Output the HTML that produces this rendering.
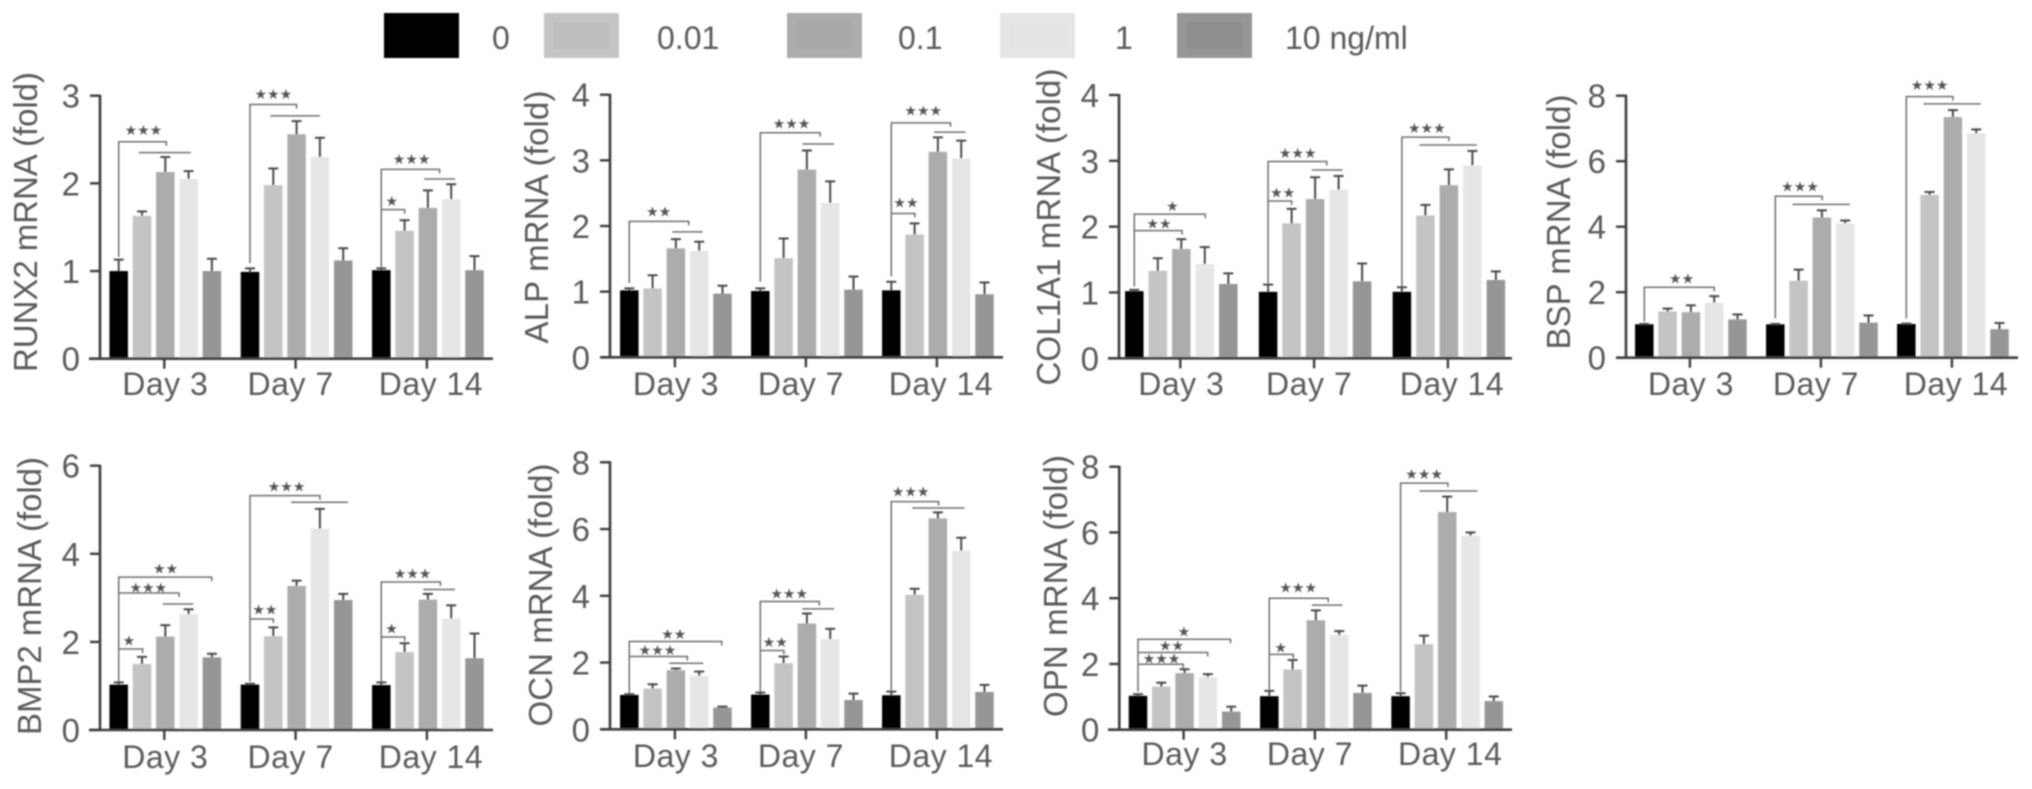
<!DOCTYPE html>
<html lang="en">
<head>
<meta charset="utf-8">
<title>mRNA fold change by dose and day</title>
<style>
html,body{margin:0;padding:0;background:#fff;width:2032px;height:789px;overflow:hidden}
svg{display:block}
text{font-family:"Liberation Sans",sans-serif;fill:#5a5a5a}
</style>
</head>
<body>
<svg id="figure" xmlns="http://www.w3.org/2000/svg" width="2032" height="789" viewBox="0 0 2032 789">
<defs><filter id="soft" x="-2%" y="-2%" width="104%" height="104%"><feGaussianBlur stdDeviation="0.8"/></filter></defs>
<g id="root" filter="url(#soft)"></g>
</svg>
<script>
// Shared categories
const days = ["Day 3", "Day 7", "Day 14"];
const doseLabels = ["0", "0.01", "0.1", "1", "10 ng/ml"];
const doseColors = ["#000000", "#c4c4c4", "#acacac", "#e6e6e6", "#969696"];
const doseInnerColors = ["#000000", "#bdbdbd", "#a8a8a8", "#e3e3e3", "#8e8e8e"];

// Means by day then dose; tops are the upper end of each error bar
const runx2Means = [[1.0,1.63,2.13,2.05,1.0],[0.99,1.98,2.56,2.3,1.12],[1.01,1.46,1.72,1.82,1.01]];
const runx2Tops = [[1.13,1.68,2.30,2.14,1.14],[1.03,2.17,2.71,2.52,1.26],[1.03,1.58,1.92,1.99,1.17]];
const alpMeans = [[1.02,1.05,1.66,1.62,0.97],[1.01,1.51,2.86,2.35,1.03],[1.02,1.87,3.13,3.03,0.96]];
const alpTops = [[1.05,1.25,1.80,1.76,1.09],[1.05,1.81,3.15,2.68,1.23],[1.15,2.04,3.35,3.30,1.14]];
const col1a1Means = [[1.02,1.33,1.66,1.43,1.13],[1.01,2.05,2.42,2.56,1.17],[1.01,2.17,2.63,2.93,1.19]];
const col1a1Tops = [[1.04,1.52,1.81,1.69,1.29],[1.12,2.27,2.75,2.77,1.44],[1.08,2.33,2.87,3.15,1.32]];
const bspMeans = [[1.02,1.41,1.39,1.68,1.17],[1.02,2.35,4.28,4.10,1.07],[1.03,4.97,7.35,6.85,0.87]];
const bspTops = [[1.03,1.50,1.60,1.88,1.32],[1.03,2.69,4.50,4.19,1.29],[1.04,5.06,7.56,6.97,1.06]];
const bmp2Means = [[1.03,1.50,2.12,2.63,1.65],[1.03,2.13,3.27,4.57,2.95],[1.02,1.77,2.96,2.53,1.63]];
const bmp2Tops = [[1.08,1.66,2.38,2.74,1.73],[1.05,2.33,3.39,5.02,3.09],[1.08,1.97,3.09,2.83,2.19]];
const ocnMeans = [[1.03,1.22,1.77,1.60,0.65],[1.04,1.98,3.17,2.70,0.88],[1.02,4.03,6.32,5.35,1.12]];
const ocnTops = [[1.05,1.35,1.82,1.73,0.68],[1.10,2.18,3.47,3.01,1.07],[1.13,4.21,6.50,5.74,1.33]];
const opnMeans = [[1.03,1.31,1.72,1.60,0.55],[1.02,1.83,3.33,2.88,1.12],[1.02,2.60,6.62,5.90,0.87]];
const opnTops = [[1.08,1.43,1.84,1.69,0.70],[1.18,2.12,3.63,3.00,1.34],[1.11,2.86,7.09,6.00,1.01]];

// Significance brackets: [day index, end dose position, value level, start drop value, star count, star dose position, star value]
const runx2Brackets = [[0,2.04,2.475,1.16,3,1.06,2.61],[1,2.0,2.90,1.09,3,1.0,3.02],[2,2.5,2.16,1.03,3,1.3,2.28],[2,1.0,1.70,1.70,1,0.45,1.80]];
const alpBrackets = [[0,2.55,2.07,1.13,2,1.26,2.22],[1,2.57,3.42,1.15,3,1.34,3.56],[2,2.54,3.57,1.23,3,1.37,3.76],[2,1.01,2.19,2.19,2,0.63,2.36]];
const col1a1Brackets = [[0,3.02,2.19,1.09,1,1.62,2.31],[0,2.03,1.94,1.94,2,1.05,2.05],[1,2.5,2.99,1.14,3,1.26,3.12],[1,1.0,2.39,2.39,2,0.62,2.52],[2,2.0,3.36,1.09,3,1.06,3.5]];
const bspBrackets = [[0,3.0,2.15,1.1,2,1.6,2.42],[1,2.01,4.93,1.2,3,1.06,5.22],[2,2.0,7.97,1.2,3,1.0,8.32]];
const bmp2Brackets = [[0,3.99,3.47,1.1,2,2.01,3.67],[0,2.59,3.11,3.11,3,1.27,3.24],[0,1.03,1.84,1.84,1,0.44,2.03],[1,3.0,5.32,1.1,3,1.57,5.53],[1,1.0,2.52,2.52,2,0.64,2.73],[2,2.54,3.36,1.1,3,1.34,3.55],[2,1.01,2.11,2.11,1,0.44,2.3]];
const ocnBrackets = [[0,3.97,2.63,1.08,2,1.91,2.86],[0,2.49,2.18,2.18,3,1.21,2.38],[1,2.53,3.83,1.13,3,1.24,4.07],[1,1.01,2.36,2.36,2,0.64,2.61],[2,2.03,6.82,1.13,3,0.83,7.12]];
const opnBrackets = [[0,3.97,2.75,1.16,1,1.97,2.98],[0,2.99,2.35,2.35,2,1.44,2.56],[0,1.94,1.99,1.99,3,1.01,2.17],[1,2.53,4.0,1.2,3,1.24,4.32],[1,1.03,2.29,2.29,1,0.49,2.5],[2,2.03,7.5,1.16,3,1.01,7.78]];

// Horizontal comparison lines: [day index, from dose position, to dose position, value level]
const runx2Lines = [[0,0.86,3.09,2.35],[1,0.87,3.0,2.77],[2,1.84,3.17,2.05]];
const alpLines = [[0,1.84,3.14,1.91],[1,1.81,3.17,3.25],[2,1.84,3.19,3.43]];
const col1a1Lines = [[1,1.86,3.16,2.86],[2,0.75,3.19,3.24]];
const bspLines = [[1,0.74,3.2,4.68],[2,0.74,3.19,7.75]];
const bmp2Lines = [[0,1.89,3.2,2.86],[1,1.76,4.21,5.17],[2,1.8,3.16,3.19]];
const ocnLines = [[0,1.71,3.17,1.98],[1,1.81,3.17,3.61],[2,0.9,3.14,6.63]];
const opnLines = [[1,1.83,3.14,3.79],[2,0.81,3.3,7.26]];

// Y tick labels
const ticksRunx2 = [0,1,2,3];
const ticksTo4 = [0,1,2,3,4];
const ticksTo6 = [0,2,4,6];
const ticksTo8 = [0,2,4,6,8];

const panels = [
  {id:"runx2",title:"RUNX2 mRNA (fold)",means:runx2Means,tops:runx2Tops,brackets:runx2Brackets,lines:runx2Lines,ticks:ticksRunx2,
   axisX:100,y0:358.7,yTop:95.7,start:118.7,groupStep:131.3,barStep:23.3,xFrom:89,xTo:493,titleX:37,titleY:222,titleLen:300,dayY:395},
  {id:"alp",title:"ALP mRNA (fold)",means:alpMeans,tops:alpTops,brackets:alpBrackets,lines:alpLines,ticks:ticksTo4,
   axisX:610,y0:357.3,yTop:94.7,start:629.3,groupStep:131,barStep:23.3,xFrom:600,xTo:1003,titleX:548,titleY:217,titleLen:253,dayY:395},
  {id:"col1a1",title:"COL1A1 mRNA (fold)",means:col1a1Means,tops:col1a1Tops,brackets:col1a1Brackets,lines:col1a1Lines,ticks:ticksTo4,
   axisX:1119,y0:358.3,yTop:95,start:1134.3,groupStep:133.8,barStep:23.5,xFrom:1108,xTo:1512,titleX:1060,titleY:227,titleLen:317,dayY:395},
  {id:"bsp",title:"BSP mRNA (fold)",means:bspMeans,tops:bspTops,brackets:bspBrackets,lines:bspLines,ticks:ticksTo8,
   axisX:1626,y0:357.7,yTop:95.7,start:1644.3,groupStep:131,barStep:23.3,xFrom:1616,xTo:2018,titleX:1570,titleY:222,titleLen:255,dayY:395},
  {id:"bmp2",title:"BMP2 mRNA (fold)",means:bmp2Means,tops:bmp2Tops,brackets:bmp2Brackets,lines:bmp2Lines,ticks:ticksTo6,
   axisX:100,y0:730,yTop:465.7,start:118.7,groupStep:131.3,barStep:23.3,xFrom:89,xTo:493,titleX:41,titleY:596,titleLen:278,dayY:768},
  {id:"ocn",title:"OCN mRNA (fold)",means:ocnMeans,tops:ocnTops,brackets:ocnBrackets,lines:ocnLines,ticks:ticksTo8,
   axisX:610,y0:729.3,yTop:462.3,start:629.3,groupStep:131,barStep:23.3,xFrom:600,xTo:1003,titleX:552,titleY:595,titleLen:263,dayY:767},
  {id:"opn",title:"OPN mRNA (fold)",means:opnMeans,tops:opnTops,brackets:opnBrackets,lines:opnLines,ticks:ticksTo8,
   axisX:1119.3,y0:729.7,yTop:466.7,start:1138,groupStep:131.3,barStep:23.3,xFrom:1108,xTo:1512,titleX:1067,titleY:586,titleLen:262,dayY:765}
];

const NS = "http://www.w3.org/2000/svg";
const root = document.getElementById("root");

function mk(tag, attrs, parent, content) {
  const el = document.createElementNS(NS, tag);
  for (const k in attrs) el.setAttribute(k, attrs[k]);
  if (content !== undefined) el.textContent = content;
  parent.appendChild(el);
  return el;
}

// Legend
const legendLayout = {boxX:[384,544,787,1000,1177], textX:[492,657,898,1115,1285]};
const legend = mk("g", {}, root);


doseLabels.forEach((label, i) => {
  const outer = mk("rect", {x:legendLayout.boxX[i], y:13, width:75, height:45, fill:doseColors[i]}, legend);
  
  
  const inner = mk("rect", {x:legendLayout.boxX[i]+10, y:22, width:55, height:27, fill:doseInnerColors[i]}, legend);
  
  
  const t = mk("text", {x:legendLayout.textX[i], y:49, "font-size":32}, legend, label);
  
  
});

// Panels
panels.forEach(p => {
  const maxTick = p.ticks[p.ticks.length - 1];
  const yScale = v => p.y0 - (v / maxTick) * (p.y0 - p.yTop);
  const xScale = (g, b) => p.start + g * p.groupStep + b * p.barStep;
  const barW = 18.5;

  const g = mk("g", {}, root);
  
  

  // Bars and error bars
  p.means.forEach((row, gi) => {
    row.forEach((m, bi) => {
      const cx = xScale(gi, bi);
      const bar = mk("rect", {x:cx - barW/2, y:yScale(m), width:barW, height:p.y0 - yScale(m), fill:doseColors[bi]}, g);
      
      
      const top = p.tops[gi][bi];
      const stem = mk("line", {x1:cx, x2:cx, y1:yScale(m), y2:yScale(top), stroke:"#4a4a4a", "stroke-width":2}, g);
      
      
      const cap = mk("line", {x1:cx-5, x2:cx+5, y1:yScale(top), y2:yScale(top), stroke:"#4a4a4a", "stroke-width":2}, g);
      
      
    });
  });

  // Axes
  const yAxis = mk("line", {x1:p.axisX, x2:p.axisX, y1:p.yTop-1, y2:p.y0+1, stroke:"#3c3c3c", "stroke-width":2.6}, g);
  
  
  const xAxis = mk("line", {x1:p.xFrom, x2:p.xTo, y1:p.y0, y2:p.y0, stroke:"#3c3c3c", "stroke-width":2.6}, g);
  
  

  p.ticks.forEach(v => {
    const y = yScale(v);
    const tick = mk("line", {x1:p.axisX-10, x2:p.axisX, y1:y, y2:y, stroke:"#3c3c3c", "stroke-width":2.4}, g);
    
    
    const label = mk("text", {x:p.axisX-20, y:y+12, "font-size":33, "text-anchor":"end"}, g, String(v));
    
    
  });

  const dayShift = [1, -5, 4];
  days.forEach((d, gi) => {
    const x = xScale(gi, 2) - 1;
    const tick = mk("line", {x1:x, x2:x, y1:p.y0, y2:p.y0+10, stroke:"#3c3c3c", "stroke-width":2.4}, g);
    
    
    const label = mk("text", {x:x + dayShift[gi], y:p.dayY, "font-size":32, "text-anchor":"middle", "letter-spacing":"0.5"}, g, d);
    
    
  });

  const title = mk("text", {x:p.titleX, y:p.titleY, "font-size":33, "text-anchor":"middle", textLength:p.titleLen, lengthAdjust:"spacing",
    transform:"rotate(-90 " + p.titleX + " " + p.titleY + ")"}, g, p.title);
  
  

  // Brackets
  p.brackets.forEach(b => {
    const xL = xScale(b[0], 0), xR = xScale(b[0], b[1]);
    const yL = yScale(b[2]);
    const d = "M" + xL + " " + yScale(b[3]) + " V" + yL + " H" + xR + " V" + (yL + 4);
    const path = mk("path", {d:d, fill:"none", stroke:"#6e6e6e", "stroke-width":1.5}, g);
    
    
    const stars = mk("text", {x:xScale(b[0], b[5]), y:yScale(b[6]) + 5, "font-size":14, "text-anchor":"middle",
      style:'font-family:"DejaVu Sans",sans-serif;fill:#555'}, g, "★".repeat(b[4]));
    
    
  });

  p.lines.forEach(l => {
    const y = yScale(l[3]);
    const line = mk("line", {x1:xScale(l[0], l[1]), x2:xScale(l[0], l[2]), y1:y, y2:y, stroke:"#6e6e6e", "stroke-width":1.5}, g);
    
    
  });
});
</script>
</body>
</html>
